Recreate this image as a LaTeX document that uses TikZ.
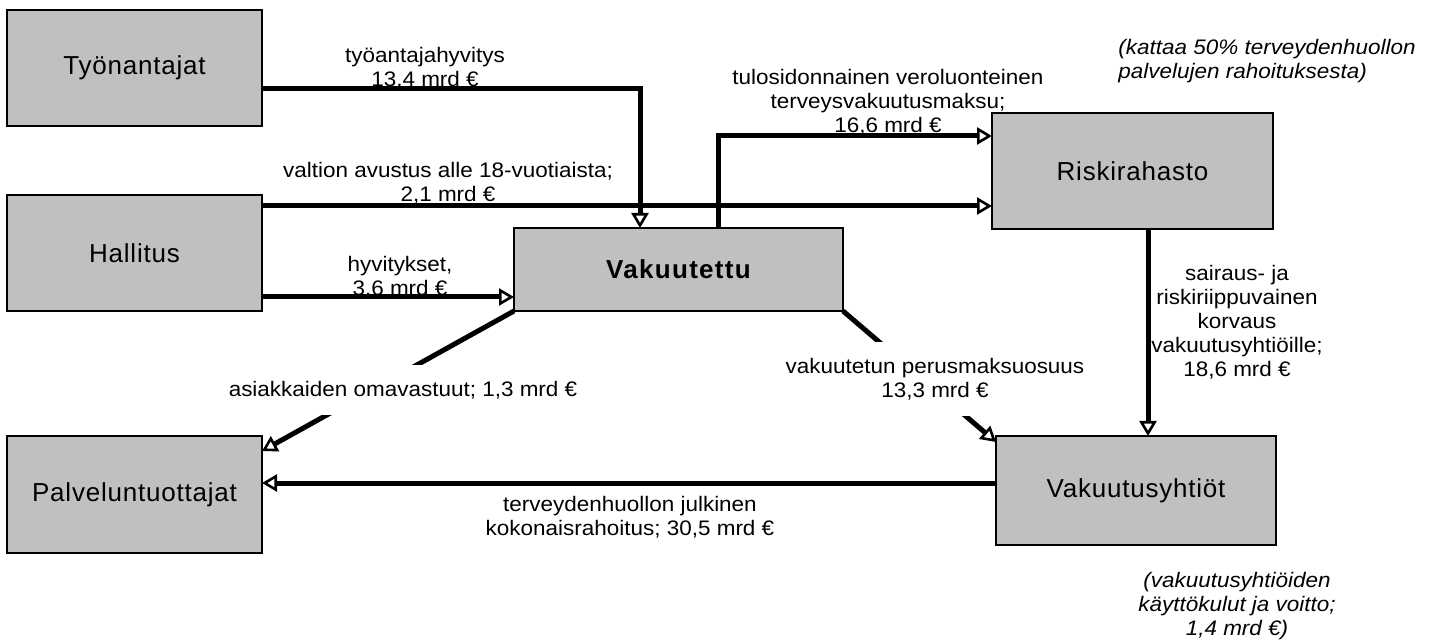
\documentclass[tikz,border=0pt]{standalone}
\usepackage{fontspec}
\setmainfont{Liberation Sans}
\newfontfamily\lblf{Liberation Sans}[FakeStretch=1.07]
\newfontfamily\boxff{Liberation Sans}[LetterSpace=3]
\newfontfamily\vakff{Liberation Sans}[LetterSpace=5]
\usetikzlibrary{arrows.meta}
\definecolor{boxgray}{RGB}{192,192,192}
\tikzset{
  box/.style n args={2}{draw=black, line width=1pt, fill=boxgray, minimum width=#1, minimum height=#2,
     inner sep=0pt, outer sep=0pt, font=\boxff\fontsize{13pt}{15pt}\selectfont},
  flow/.style={line width=2.5pt, -{Triangle[open, length=7.5pt, width=8.5pt, line width=1.3pt]}},
  lbl/.style={font=\lblf\fontsize{10.5pt}{12pt}\selectfont, align=center, inner sep=0pt},
  note/.style={font=\lblf\itshape\fontsize{10.5pt}{12pt}\selectfont, inner sep=0pt},
  cut/.style={fill=white, inner ysep=8pt, inner xsep=2pt}
}
\begin{document}
\begin{tikzpicture}[x=0.5pt, y=-0.5pt]
\useasboundingbox (0,0) rectangle (1429,641);
% boxes
\node[box={127.5pt}{58pt}] (tyo) at (134.5,68) {Työnantajat};
\node[box={127.5pt}{58pt}] (hal) at (134.5,253) {Hallitus};
\node[box={127.5pt}{58.5pt}] (pal) at (134.5,494.5) {Palveluntuottajat};
\node[box={164.5pt}{41.5pt}, font=\vakff\bfseries\fontsize{13pt}{15pt}\selectfont] (vak) at (678.5,269.5) {Vakuutettu};
\node[box={140.5pt}{58pt}] (ris) at (1132.5,171) {Riskirahasto};
\node[box={140pt}{54.5pt}] (vay) at (1136,490.5) {Vakuutusyhtiöt};
% labels sitting on lines
\node[lbl] (l1) at (425,68.5) {työantajahyvitys\\13,4 mrd €};
\node[lbl] (l2) at (448,183.5) {valtion avustus alle 18-vuotiaista;\\2,1 mrd €};
\node[lbl] (l3) at (400,277.5) {hyvitykset,\\3,6 mrd €};
\node[lbl] (l4) at (888,102.5) {tulosidonnainen veroluonteinen\\terveysvakuutusmaksu;\\16,6 mrd €};
\node[lbl] (l5) at (1237,322.5) {sairaus- ja\\riskiriippuvainen\\korvaus\\vakuutusyhtiöille;\\18,6 mrd €};
\node[lbl] (l6) at (630,517) {terveydenhuollon julkinen\\kokonaisrahoitus; 30,5 mrd €};
\node[note, align=left, anchor=west] (n1) at (1118,61) {(kattaa 50\% terveydenhuollon\\palvelujen rahoituksesta)};
\node[note, align=center] (n2) at (1237,606) {(vakuutusyhtiöiden\\käyttökulut ja voitto;\\1,4 mrd €)};
% connectors
\coordinate (t1) at ([yshift=-10.5pt]tyo.east);
\coordinate (t2) at ([xshift=-19.25pt]vak.north);
\draw[flow] (t1) -| (t2);
\coordinate (h1) at ([yshift=23.5pt]hal.east);
\draw[flow] (h1) -- (h1 -| ris.west);
\coordinate (h2) at ([yshift=-22pt]hal.east);
\draw[flow] (h2) -- (h2 -| vak.west);
\coordinate (v1) at ([xshift=19.75pt]vak.north);
\coordinate (r0) at ([yshift=17.5pt]ris.west);
\draw[flow] (v1) |- (r0);
\coordinate (r1) at ([xshift=7.75pt]ris.south);
\draw[flow] (r1) -- (r1 |- vay.north);
\coordinate (y1) at ([yshift=3.75pt]vay.west);
\draw[flow] (y1) -- (y1 -| pal.east);
\coordinate (p1) at ([yshift=-7.5pt]pal.north east);
\draw[flow] (vak.south west) -- (p1);
\coordinate (q1) at ([yshift=-3pt]vay.north west);
\draw[flow] (vak.south east) -- (q1);
% labels that cut the diagonals
\node[lbl, cut] (l7) at (403,390) {asiakkaiden omavastuut; 1,3 mrd €};
\node[lbl, cut] (l8) at (935,379) {vakuutetun perusmaksuosuus\\13,3 mrd €};
\end{tikzpicture}
\end{document}
